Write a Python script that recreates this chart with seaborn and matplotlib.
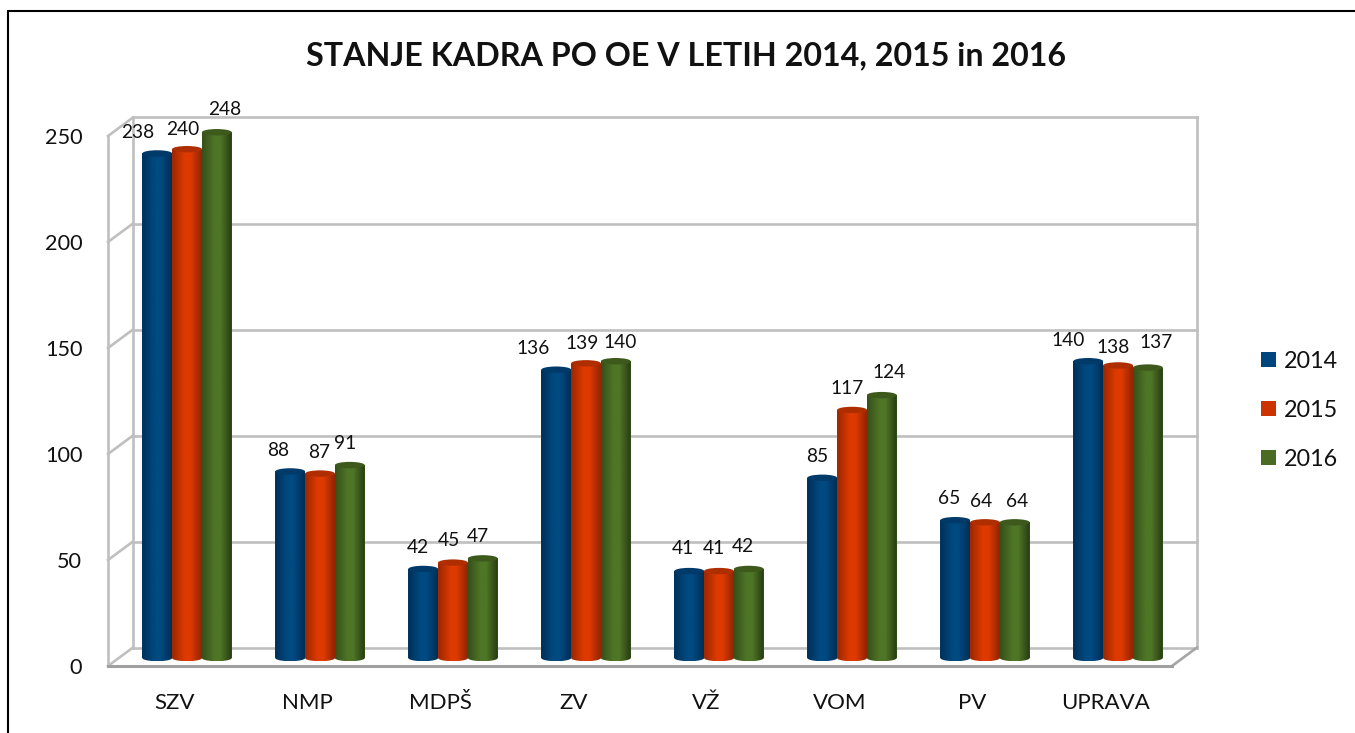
import numpy as np
import pandas as pd
import matplotlib
matplotlib.use("Agg")
import matplotlib.pyplot as plt
import seaborn as sns
from matplotlib.colors import LinearSegmentedColormap
from matplotlib.lines import Line2D
from matplotlib.patches import Ellipse, Polygon
from matplotlib.transforms import Affine2D

# ---- data -------------------------------------------------------------
units = ["SZV", "NMP", "MDPŠ", "ZV", "VŽ", "VOM", "PV", "UPRAVA"]
years = ["2014", "2015", "2016"]
staff_2014 = [238, 88, 42, 136, 41, 85, 65, 140]
staff_2015 = [240, 87, 45, 139, 41, 117, 64, 138]
staff_2016 = [248, 91, 47, 140, 42, 124, 64, 137]
title = "STANJE KADRA PO OE V LETIH 2014, 2015 in 2016"
y_ticks = [0, 50, 100, 150, 200, 250]

# ---- style ------------------------------------------------------------
W, H = 1355, 733
flat = {"2014": "#00467C", "2015": "#CC3300", "2016": "#4A6B22"}
shade = {
    "2014": ["#002F58", "#004A80", "#004A82", "#002E55"],
    "2015": ["#9A2700", "#DE3A00", "#DE3A00", "#8F2400"],
    "2016": ["#35501A", "#4F7526", "#4F7526", "#263B12"],
}
cap = {"2014": "#003A68", "2015": "#AE2E00", "2016": "#3D5A1C"}
# label nudges from the top of each cylinder (pixels: right, up)
nudges = {
    "2014": [(-20, 21), (-12, 21), (-5, 21), (-23, 21), (-6, 23), (-5, 21), (-6, 22), (-20, 21)],
    "2015": [(-4, 20), (-1, 21), (-4, 22), (-4, 20), (-5, 23), (-5, 21), (-4, 21), (-5, 18)],
    "2016": [(8, 23), (-5, 22), (-5, 22), (4, 19), (-6, 22), (7, 23), (2, 21), (8, 25)],
}

sns.set_theme(style="white")
plt.rcParams["font.family"] = ["Lato", "DejaVu Sans"]

df = pd.DataFrame({
    "oe": units * 3,
    "leto": np.repeat(years, len(units)),
    "stanje": staff_2014 + staff_2015 + staff_2016,
})

fig = plt.figure(figsize=(W / 100, H / 100), dpi=100, facecolor="white")
AX_L, AX_R, AX_T, AX_B = 108, 1172, 136, 666
ax = fig.add_axes([AX_L / W, 1 - AX_B / H, (AX_R - AX_L) / W, (AX_B - AX_T) / H])

sns.barplot(data=df, x="oe", y="stanje", hue="leto", hue_order=years, order=units,
            palette=flat, width=0.672, gap=0, dodge=True, ax=ax, saturation=1,
            errorbar=None, linewidth=0, zorder=3)

xmin, xmax = -0.594, 7.406
ax.set_xlim(xmin, xmax)
ax.set_ylim(0, 250)
px_x = 133.0                 # pixels per category
px_y = (AX_B - AX_T) / 250   # pixels per unit
depth_x, depth_y = 25 / px_x, 18.5 / px_y  # front plane -> back wall
lift = 8 / px_y              # cylinders stand this far behind the front edge
ry = 3.2 / px_y              # half height of a cylinder's cap

# ---- the box: back wall, side wall, floor ------------------------------
wall = dict(color="#BFBFBF", lw=1.9, clip_on=False, zorder=1, solid_capstyle="projecting")
for v in y_ticks:
    ax.plot([xmin + depth_x, xmax + depth_x], [v + depth_y] * 2, **wall)
    ax.plot([xmin, xmin + depth_x], [v, v + depth_y], **wall)
ax.plot([xmin, xmin], [0, 250], **wall)
ax.plot([xmin + depth_x] * 2, [depth_y, 250 + depth_y], **wall)
ax.plot([xmax + depth_x] * 2, [depth_y, 250 + depth_y], **wall)
ax.plot([xmax, xmax + depth_x], [0, depth_y], color="#A6A6A6", lw=1.9, clip_on=False, zorder=1)
ax.plot([xmin, xmax], [0, 0], color="#A0A0A0", lw=2.2, clip_on=False, zorder=2,
        solid_capstyle="projecting")

# ---- cylinders, built on the bars that seaborn drew --------------------
gradient = np.linspace(0, 1, 128).reshape(1, -1)
t = np.linspace(np.pi, 2 * np.pi, 40)
z = 4
for year, bars in zip(years, ax.containers):
    cmap = LinearSegmentedColormap.from_list(year, list(zip([0, 0.42, 0.62, 1], shade[year])))
    for i, bar in enumerate(bars):
        bar.set_y(lift)
        bar.set_clip_on(False)
        bar.set_zorder(z)
        x0, w, h = bar.get_x(), bar.get_width(), bar.get_height()
        cx, top = x0 + w / 2, lift + h
        outline = np.vstack([
            np.column_stack([cx + w / 2 * np.cos(t), lift + ry * np.sin(t)]),
            [[x0 + w, top], [x0, top]],
        ])
        body = Polygon(outline, closed=True, facecolor="none", edgecolor="none", zorder=z)
        ax.add_patch(body)
        im = ax.imshow(gradient, cmap=cmap, extent=[x0, x0 + w, lift - ry, top],
                       aspect="auto", zorder=z + 0.1, interpolation="bilinear")
        im.set_clip_path(body)
        im.set_clip_box(fig.bbox)
        ax.add_patch(Ellipse((cx, top), w, 2 * ry, facecolor=cap[year], edgecolor="none",
                             clip_on=False, zorder=z + 0.2))
        dx, dy = nudges[year][i]
        ax.annotate(f"{h:.0f}", xy=(cx, top), xytext=(dx * 0.72, dy * 0.72),
                    textcoords="offset points", ha="center", va="center",
                    fontsize=13.8, color="#111111", zorder=50, annotation_clip=False)
        z += 1

ax.set_xlim(xmin, xmax)
ax.set_ylim(0, 250)

# ---- axes text ---------------------------------------------------------
sns.despine(ax=ax, left=True, bottom=True, top=True, right=True)
ax.set_xlabel("")
ax.set_ylabel("")
ax.set_yticks(y_ticks)
ax.set_xticks(range(len(units)))
ax.set_xticklabels(units)
ax.tick_params(axis="y", length=0, pad=18.5, labelsize=15.6, labelcolor="#111111")
ax.tick_params(axis="x", length=0, pad=19.5, labelsize=16, labelcolor="#111111")
for label in ax.get_xticklabels():
    label.set_transform(label.get_transform() + Affine2D().translate(-12.5, 0))
ax.patch.set_alpha(0)

handles, labels = ax.get_legend_handles_labels()
ax.legend(handles, labels, loc="center left", bbox_to_anchor=(1261 / W, 1 - 410 / H),
          bbox_transform=fig.transFigure, frameon=False, fontsize=16.8, handlelength=0.65,
          handleheight=0.65, handletextpad=0.31, labelspacing=1.2, labelcolor="#111111",
          borderpad=0, borderaxespad=0)

fig.text(686 / W, 1 - 56 / H, title, ha="center", va="center", fontsize=23.2,
         fontweight="bold", color="#111111")

# ---- the chart area's border (top and left only are in view) ------------
fig.add_artist(Line2D([8 / W, 8 / W], [0, 1 - 10.5 / H], color="black", lw=1.5))
fig.add_artist(Line2D([8 / W, 1], [1 - 10.5 / H] * 2, color="black", lw=1.5))

fig.savefig("out.png", dpi=100, facecolor="white")
